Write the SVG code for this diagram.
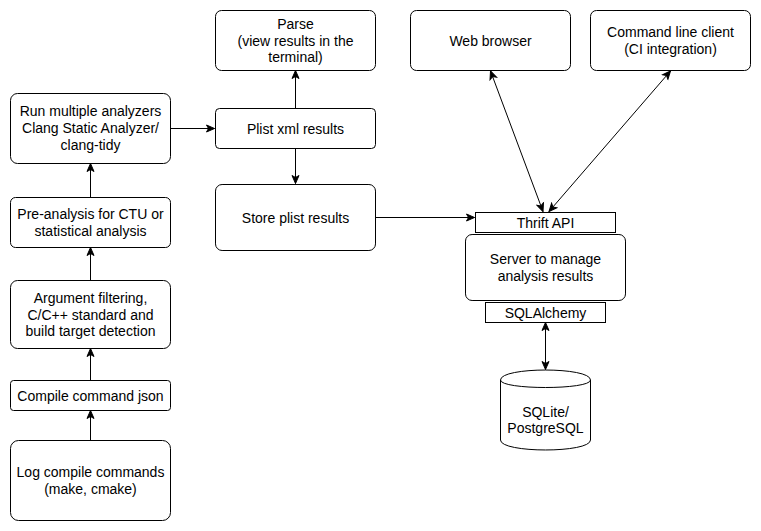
<svg xmlns="http://www.w3.org/2000/svg" width="761" height="531" viewBox="0 0 761 531">
<defs>
<style>
.b{fill:#fff;stroke:#000;stroke-width:1}
.t{font-family:"Liberation Sans",Arial,Helvetica,sans-serif;font-size:14px;fill:#000;text-anchor:middle}
.c{fill:none;stroke:#000;stroke-width:1}
</style>
<marker id="ah" viewBox="0 0 10 10" refX="9" refY="5" markerWidth="10" markerHeight="10" markerUnits="userSpaceOnUse" orient="auto-start-reverse">
<path d="M1,1.5 L9,5 L1,8.5 L3,5 Z" fill="#000" stroke="#000" stroke-width="1"/>
</marker>
</defs>
<rect width="761" height="531" fill="#fff"/>
<g id="connectors">
<path class="c" d="M90.5,440 L90.5,410.5" marker-end="url(#ah)"/>
<path class="c" d="M90.5,380 L90.5,348.5" marker-end="url(#ah)"/>
<path class="c" d="M90.5,280 L90.5,247.5" marker-end="url(#ah)"/>
<path class="c" d="M90.5,197 L90.5,163.5" marker-end="url(#ah)"/>
<path class="c" d="M170.5,128.5 L214.5,128.5" marker-end="url(#ah)"/>
<path class="c" d="M295.5,108 L295.5,70.5" marker-end="url(#ah)"/>
<path class="c" d="M295.5,148.5 L295.5,183.5" marker-end="url(#ah)"/>
<path class="c" d="M375.5,217.5 L474.5,217.5" marker-end="url(#ah)"/>
<path class="c" d="M490.5,71 L543,211.5" marker-start="url(#ah)" marker-end="url(#ah)"/>
<path class="c" d="M670.5,71 L549,211.5" marker-start="url(#ah)" marker-end="url(#ah)"/>
<path class="c" d="M545.5,322.5 L545.5,369.5" marker-start="url(#ah)" marker-end="url(#ah)"/>
</g>
<g id="run-analyzers">
<rect class="b" x="10.5" y="93.5" width="160" height="70" rx="7"/>
<text class="t" x="90.5" y="116.2">Run multiple analyzers</text>
<text class="t" x="90.5" y="133">Clang Static Analyzer/</text>
<text class="t" x="90.5" y="149.8">clang-tidy</text>
</g>
<g id="pre-analysis">
<rect class="b" x="10.5" y="197.5" width="160" height="50" rx="5"/>
<text class="t" x="90.5" y="219.1">Pre-analysis for CTU or</text>
<text class="t" x="90.5" y="235.9">statistical analysis</text>
</g>
<g id="argument-filtering">
<rect class="b" x="10.5" y="280.5" width="160" height="68" rx="7"/>
<text class="t" x="90.5" y="302.7">Argument filtering,</text>
<text class="t" x="90.5" y="319.5">C/C++ standard and</text>
<text class="t" x="90.5" y="336.3">build target detection</text>
</g>
<g id="compile-json">
<rect class="b" x="10.5" y="380.5" width="160" height="30" rx="3"/>
<text class="t" x="90.5" y="400.5">Compile command json</text>
</g>
<g id="log-compile">
<rect class="b" x="10.5" y="440.5" width="160" height="80" rx="8"/>
<text class="t" x="90.5" y="477.1">Log compile commands</text>
<text class="t" x="90.5" y="493.9">(make, cmake)</text>
</g>
<g id="parse">
<rect class="b" x="215.5" y="10.5" width="160" height="60" rx="6"/>
<text class="t" x="295.5" y="28.7">Parse</text>
<text class="t" x="295.5" y="45.5">(view results in the</text>
<text class="t" x="295.5" y="62.3">terminal)</text>
</g>
<g id="plist-xml">
<rect class="b" x="215.5" y="108.5" width="160" height="40" rx="4"/>
<text class="t" x="295.5" y="133.5">Plist xml results</text>
</g>
<g id="store-plist">
<rect class="b" x="215.5" y="184.5" width="160" height="66" rx="6.6"/>
<text class="t" x="295.5" y="222.5">Store plist results</text>
</g>
<g id="web-browser">
<rect class="b" x="410.5" y="10.5" width="160" height="60" rx="6"/>
<text class="t" x="490.5" y="45.5">Web browser</text>
</g>
<g id="cli-client">
<rect class="b" x="590.5" y="10.5" width="160" height="60" rx="6"/>
<text class="t" x="670.5" y="37.1">Command line client</text>
<text class="t" x="670.5" y="53.9">(CI integration)</text>
</g>
<g id="thrift-api">
<rect class="b" x="475.5" y="212.5" width="140" height="20"/>
<text class="t" x="545.5" y="227.5">Thrift API</text>
</g>
<g id="server">
<rect class="b" x="465.5" y="234.5" width="160" height="66" rx="6.6"/>
<text class="t" x="545.5" y="264.1">Server to manage</text>
<text class="t" x="545.5" y="280.9">analysis results</text>
</g>
<g id="sqlalchemy">
<rect class="b" x="485.5" y="302.5" width="120" height="20"/>
<text class="t" x="545.5" y="317.5">SQLAlchemy</text>
</g>
<g id="database">
<path class="b" d="M500.5,380 C500.5,366.7 590.5,366.7 590.5,380 L590.5,440 C590.5,453.3 500.5,453.3 500.5,440 Z"/>
<path class="c" d="M500.5,380 C500.5,390 590.5,390 590.5,380"/>
<text class="t" x="545.5" y="416.5">SQLite/</text>
<text class="t" x="545.5" y="433.3">PostgreSQL</text>
</g>
</svg>
